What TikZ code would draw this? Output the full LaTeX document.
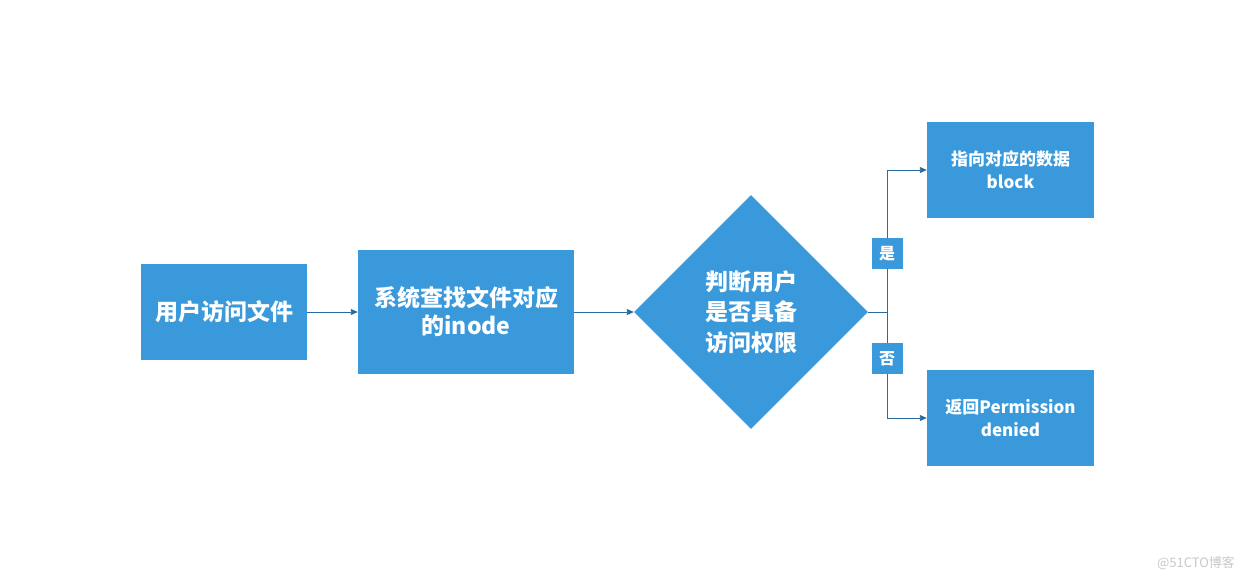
\documentclass[tikz,border=0pt]{standalone}
\usepackage{fontspec}
\newfontfamily\cjk{Noto Sans CJK SC}
\usetikzlibrary{shapes.geometric,arrows.meta}
\definecolor{boxblue}{HTML}{3A99DB}
\definecolor{linkblue}{HTML}{2A6A9E}
\definecolor{wmgray}{HTML}{C8C8C8}
\tikzset{
  flowbox/.style={fill=boxblue, text=white, inner sep=0pt, align=center},
  bigtext/.style={font=\cjk\bfseries\fontsize{23}{28}\selectfont},
  smalltext/.style={font=\cjk\bfseries\fontsize{17}{23}\selectfont},
  link/.style={draw=linkblue, line width=0.9pt, -{Triangle[length=7pt,width=6pt]}},
  tagbox/.style={fill=boxblue, text=white, minimum width=31pt, minimum height=31pt, inner sep=0pt, font=\cjk\bfseries\fontsize{16}{18}\selectfont}
}
\begin{document}
\begin{tikzpicture}[x=1pt,y=-1pt]
\useasboundingbox (0,0) rectangle (1256,582);
\node[flowbox, bigtext, minimum width=166pt, minimum height=96pt] (a) at (224,312) {用户访问文件};
\node[flowbox, bigtext, minimum width=216pt, minimum height=124pt] (b) at (466,312) {系统查找文件对应\\的inode};
\node[flowbox, bigtext, diamond, aspect=1, minimum width=234pt, minimum height=234pt, font=\cjk\bfseries\fontsize{23}{30.5}\selectfont] (c) at (751,312) {判断用户\\是否具备\\访问权限};
\node[flowbox, smalltext, minimum width=167pt, minimum height=96pt] (d) at (1010.5,170) {指向对应的数据\\block};
\node[flowbox, smalltext, minimum width=167pt, minimum height=96pt] (e) at (1010.5,418) {返回Permission\\denied};
\coordinate (j) at (887,312);
\draw[link] (a.east) -- (b.west);
\draw[link] (b.east) -- (c.west);
\draw[link] (c.east) -- (j) |- (d.west);
\draw[link] (c.east) -- (j) |- (e.west);
\node[tagbox] (yes) at (887,253.5) {是};
\node[tagbox] (no) at (887,358.5) {否};
\node[text=wmgray, font=\fontspec{Noto Sans CJK SC}\fontsize{13}{14}\selectfont, inner sep=0pt] (wm) at (1196,563) {@51CTO博客};
\end{tikzpicture}
\end{document}
